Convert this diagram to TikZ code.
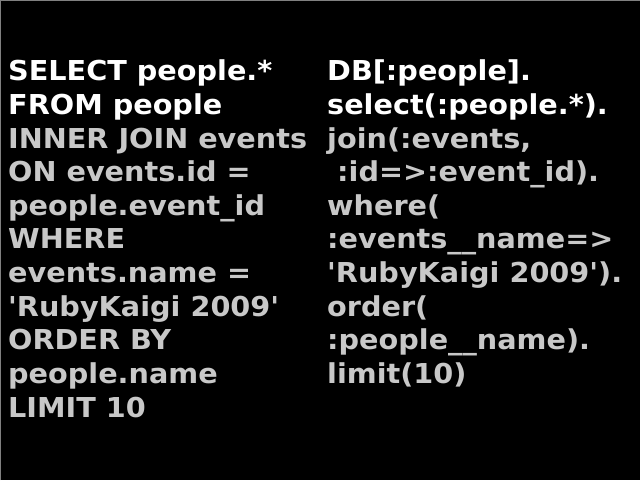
\documentclass[tikz,border=0pt]{standalone}
\usepackage{fontspec}
\newfontfamily\codefont{DejaVu Sans}[FakeStretch=1.047]
\definecolor{fgwhite}{HTML}{FFFFFF}
\definecolor{fggray}{HTML}{C8C8C8}
\definecolor{framegray}{HTML}{808080}
\begin{document}
\begin{tikzpicture}[x=1pt,y=1pt,
  codeline/.style={anchor=base west, inner sep=0pt, font=\codefont\bfseries\fontsize{27.4pt}{33.6pt}\selectfont},
  hi/.style={codeline, text=fgwhite},
  lo/.style={codeline, text=fggray}]
\useasboundingbox (0,0) rectangle (640,480);
\fill[black] (0,0) rectangle (640,480);
\draw[framegray, line width=1pt] (0.5,0) -- (0.5,479.5) -- (640,479.5);
\def\lx{8}
\def\rx{327}
% left column
\node[hi] (l1) at (\lx,399.0) {SELECT people.*};
\node[hi] (l2) at (\lx,365.4) {FROM people};
\node[lo] (l3) at (\lx,331.8) {INNER JOIN events};
\node[lo] (l4) at (\lx,298.2) {ON events.id =};
\node[lo] (l5) at (\lx,264.6) {people.event\_id};
\node[lo] (l6) at (\lx,231.0) {WHERE};
\node[lo] (l7) at (\lx,197.4) {events.name =};
\node[lo] (l8) at (\lx,163.8) {'RubyKaigi 2009'};
\node[lo] (l9) at (\lx,130.2) {ORDER BY};
\node[lo] (l10) at (\lx,96.6) {people.name};
\node[lo] (l11) at (\lx,63.0) {LIMIT 10};
% right column
\node[hi] (r1) at (\rx,399.0) {DB[:people].};
\node[hi] (r2) at (\rx,365.4) {select(:people.*).};
\node[lo] (r3) at (\rx,331.8) {join(:events,};
\node[lo] (r4) at (\rx,298.2) {\ :id=>:event\_id).};
\node[lo] (r5) at (\rx,264.6) {where(};
\node[lo] (r6) at (\rx,231.0) {:events\_\_name=>};
\node[lo] (r7) at (\rx,197.4) {'RubyKaigi 2009').};
\node[lo] (r8) at (\rx,163.8) {order(};
\node[lo] (r9) at (\rx,130.2) {:people\_\_name).};
\node[lo] (r10) at (\rx,96.6) {limit(10)};
\end{tikzpicture}
\end{document}
